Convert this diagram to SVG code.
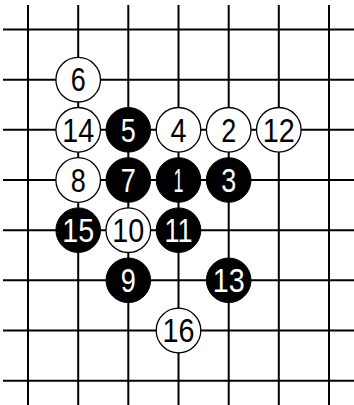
<svg xmlns="http://www.w3.org/2000/svg" width="354" height="405" viewBox="0 0 354 405">
<style>
.g{stroke:#000;stroke-width:2;fill:none}
.w{fill:#fff;stroke:#000;stroke-width:1.3}
.b{fill:#000;stroke:#000;stroke-width:1}
text{font-family:"Liberation Sans",Arial,sans-serif;font-size:33px;text-anchor:middle}
.tw{fill:#000}
.tb{fill:#fff}
</style>
<rect width="354" height="405" fill="#fff"/>
<g id="connectors" class="g">
<line x1="28" y1="5" x2="28" y2="405"/>
<line x1="78.2" y1="5" x2="78.2" y2="405"/>
<line x1="128.3" y1="5" x2="128.3" y2="405"/>
<line x1="178.5" y1="5" x2="178.5" y2="405"/>
<line x1="228.7" y1="5" x2="228.7" y2="405"/>
<line x1="278.8" y1="5" x2="278.8" y2="405"/>
<line x1="329" y1="5" x2="329" y2="405"/>
<line x1="3" y1="29.5" x2="354" y2="29.5"/>
<line x1="3" y1="79.7" x2="354" y2="79.7"/>
<line x1="3" y1="129.8" x2="354" y2="129.8"/>
<line x1="3" y1="180" x2="354" y2="180"/>
<line x1="3" y1="230.2" x2="354" y2="230.2"/>
<line x1="3" y1="280.3" x2="354" y2="280.3"/>
<line x1="3" y1="330.5" x2="354" y2="330.5"/>
<line x1="3" y1="380.7" x2="354" y2="380.7"/>
</g>
<g id="s6"><circle class="w" cx="78.2" cy="79.7" r="22.3"/><text class="tw" x="78.2" y="91.4" textLength="15" lengthAdjust="spacingAndGlyphs">6</text></g>
<g id="s14"><circle class="w" cx="78.2" cy="129.8" r="22.3"/><text class="tw" x="78.2" y="141.5" textLength="32" lengthAdjust="spacingAndGlyphs">14</text></g>
<g id="s5"><circle class="b" cx="128.3" cy="129.8" r="22.3"/><text class="tb" x="128.3" y="141.5" textLength="15" lengthAdjust="spacingAndGlyphs">5</text></g>
<g id="s4"><circle class="w" cx="178.5" cy="129.8" r="22.3"/><text class="tw" x="178.5" y="141.5" textLength="16" lengthAdjust="spacingAndGlyphs">4</text></g>
<g id="s2"><circle class="w" cx="228.7" cy="129.8" r="22.3"/><text class="tw" x="228.7" y="141.5" textLength="15" lengthAdjust="spacingAndGlyphs">2</text></g>
<g id="s12"><circle class="w" cx="278.8" cy="129.8" r="22.3"/><text class="tw" x="278.8" y="141.5" textLength="32" lengthAdjust="spacingAndGlyphs">12</text></g>
<g id="s8"><circle class="w" cx="78.2" cy="180" r="22.3"/><text class="tw" x="78.2" y="191.7" textLength="15" lengthAdjust="spacingAndGlyphs">8</text></g>
<g id="s7"><circle class="b" cx="128.3" cy="180" r="22.3"/><text class="tb" x="128.3" y="191.7" textLength="15" lengthAdjust="spacingAndGlyphs">7</text></g>
<g id="s1"><circle class="b" cx="178.5" cy="180" r="22.3"/><text class="tb" x="178.5" y="191.7" textLength="10" lengthAdjust="spacingAndGlyphs">1</text></g>
<g id="s3"><circle class="b" cx="228.7" cy="180" r="22.3"/><text class="tb" x="228.7" y="191.7" textLength="15" lengthAdjust="spacingAndGlyphs">3</text></g>
<g id="s15"><circle class="b" cx="78.2" cy="230.2" r="22.3"/><text class="tb" x="78.2" y="241.9" textLength="32" lengthAdjust="spacingAndGlyphs">15</text></g>
<g id="s10"><circle class="w" cx="128.3" cy="230.2" r="22.3"/><text class="tw" x="128.3" y="241.9" textLength="32" lengthAdjust="spacingAndGlyphs">10</text></g>
<g id="s11"><circle class="b" cx="178.5" cy="230.2" r="22.3"/><text class="tb" x="178.5" y="241.9" textLength="28" lengthAdjust="spacingAndGlyphs">11</text></g>
<g id="s9"><circle class="b" cx="128.3" cy="280.3" r="22.3"/><text class="tb" x="128.3" y="292" textLength="15" lengthAdjust="spacingAndGlyphs">9</text></g>
<g id="s13"><circle class="b" cx="228.7" cy="280.3" r="22.3"/><text class="tb" x="228.7" y="292" textLength="32" lengthAdjust="spacingAndGlyphs">13</text></g>
<g id="s16"><circle class="w" cx="178.5" cy="330.5" r="22.3"/><text class="tw" x="178.5" y="342.2" textLength="32" lengthAdjust="spacingAndGlyphs">16</text></g>
</svg>
